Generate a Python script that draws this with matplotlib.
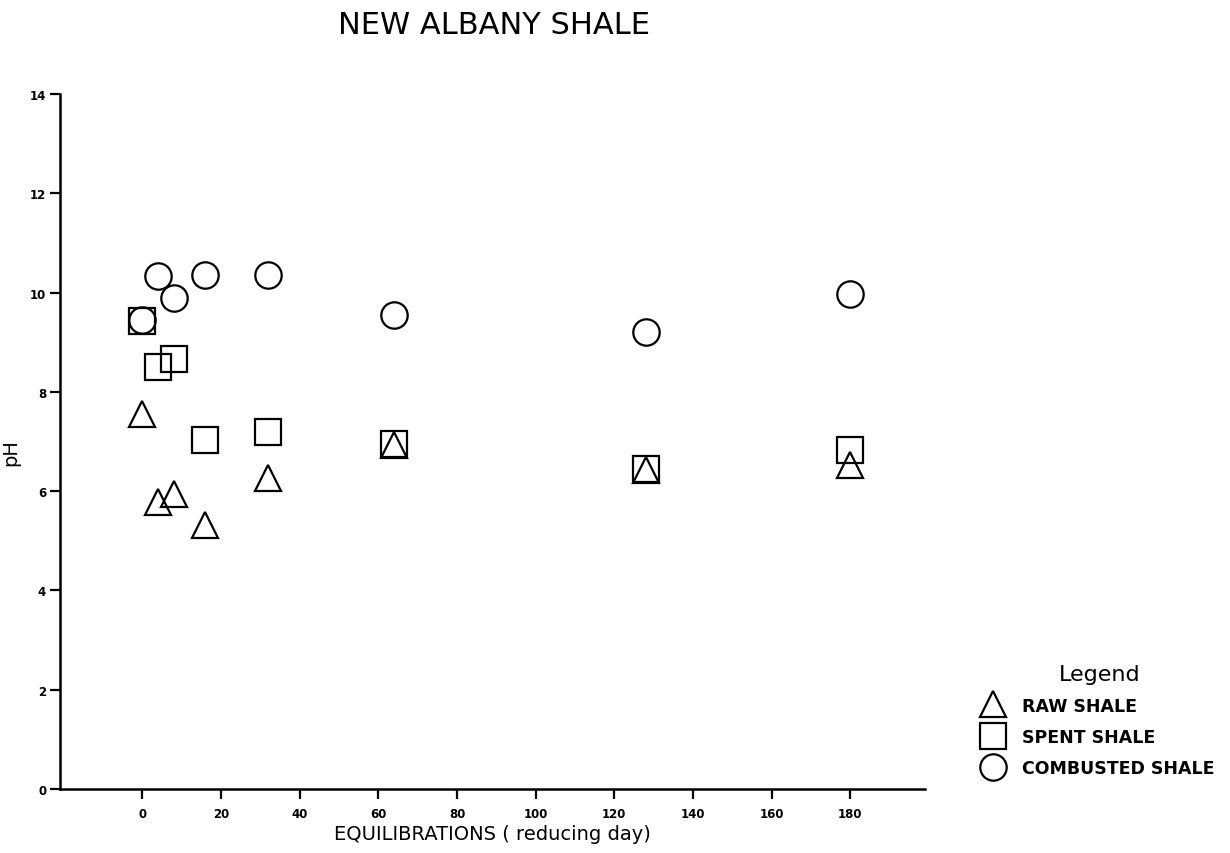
import matplotlib
matplotlib.use("Agg")
import matplotlib.pyplot as plt
from matplotlib.lines import Line2D

# reducing days and pH for each shale type
days = [0, 4, 8, 16, 32, 64, 128, 180]
raw_ph = [7.56, 5.79, 5.95, 5.32, 6.26, 6.93, 6.43, 6.52]
spent_ph = [9.42, 8.50, 8.66, 7.02, 7.20, 6.94, 6.45, 6.82]
combusted_ph = [9.45, 10.34, 9.88, 10.36, 10.36, 9.54, 9.21, 9.98]

x_ticks = [0, 20, 40, 60, 80, 100, 120, 140, 160, 180]
y_ticks = [0, 2, 4, 6, 8, 10, 12, 14]

fig = plt.figure(figsize=(12.3, 8.54), dpi=100)
ax = fig.add_axes([0.0488, 0.075, 0.7033, 0.8138])

mk = dict(linestyle="none", markerfacecolor="none", markeredgecolor="black",
          markeredgewidth=1.6, markersize=19)
ax.plot(days, raw_ph, marker="^", **mk)
ax.plot(days, spent_ph, marker="s", **mk)
ax.plot(days, combusted_ph, marker="o", **mk)

ax.set_xlim(-20.9, 199)
ax.set_ylim(0, 14)
ax.set_xticks(x_ticks)
ax.set_yticks(y_ticks)
ax.spines["top"].set_visible(False)
ax.spines["right"].set_visible(False)
for s in ["left", "bottom"]:
    ax.spines[s].set_linewidth(1.8)
ax.tick_params(width=1.6, length=7, labelsize=8.5)
ax.tick_params(axis="x", pad=6)
ax.tick_params(axis="y", pad=3)
for lab in ax.get_xticklabels() + ax.get_yticklabels():
    lab.set_fontweight("bold")

ax.set_xlabel("EQUILIBRATIONS ( reducing day)", fontsize=14)
ax.xaxis.set_label_coords(0.5, -0.05)
ax.set_ylabel("pH", fontsize=14)
ax.yaxis.set_label_coords(-0.046, 0.485)

fig.text(0.402, 0.987, "NEW ALBANY SHALE", fontsize=22, ha="center", va="top")

# legend at the right with its own handles
handles = [
    Line2D([], [], marker="^", **mk),
    Line2D([], [], marker="s", **mk),
    Line2D([], [], marker="o", **mk),
]
leg = fig.legend(handles, ["RAW SHALE", "SPENT SHALE", "COMBUSTED SHALE"],
                 loc="upper left", bbox_to_anchor=(0.793, 0.232),
                 frameon=False, title="Legend",
                 prop=dict(size=12.5, weight="bold"),
                 title_fontproperties=dict(size=16),
                 handlelength=1.0, handletextpad=1.2,
                 labelspacing=0.75, borderpad=0)
leg._legend_box.align = "center"

fig.savefig("out.png", dpi=100, facecolor="white")
